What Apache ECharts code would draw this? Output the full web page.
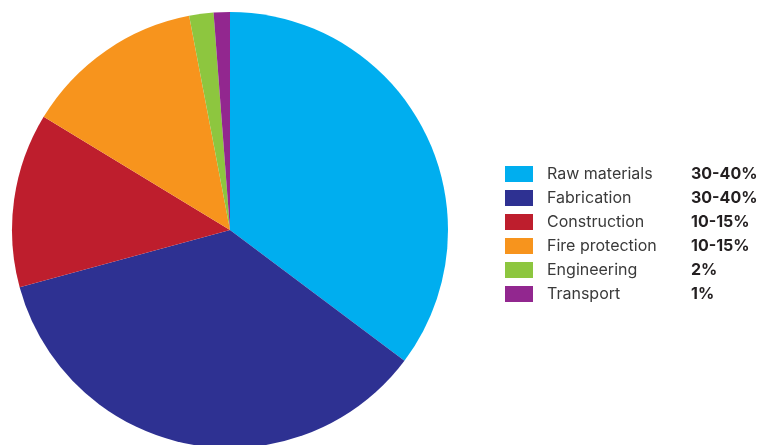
<!DOCTYPE html>
<html><head><meta charset="utf-8">
<script src="https://cdn.jsdelivr.net/npm/echarts@6/dist/echarts.min.js"></script>
<style>html,body{margin:0;padding:0;background:#fff}#c{width:763px;height:445px}</style>
</head><body><div id="c"></div>
<script>
const categories = ['Raw materials','Fabrication','Construction','Fire protection','Engineering','Transport'];
const shares = [35.2, 35.5, 12.9, 13.3, 1.8, 1.2];
const rangeLabels = ['30-40%','30-40%','10-15%','10-15%','2%','1%'];
const colors = ['#00aeef','#2e3192','#be1e2d','#f7941d','#8dc63f','#92278f'];

const chart = echarts.init(document.getElementById('c'));
chart.setOption({
  animation: false,
  color: colors,
  legend: {
    orient: 'vertical',
    left: 500, top: 161,
    itemWidth: 28, itemHeight: 16, itemGap: 8,
    icon: 'rect',
    selectedMode: false,
    data: categories,
    formatter: function(name){
      const i = categories.indexOf(name);
      return '{n|' + name + '}{v|' + rangeLabels[i] + '}';
    },
    textStyle: {
      rich: {
        n: {width: 144, fontSize: 16, fontFamily: 'Inter', color: '#3a3a3a', lineHeight: 16, padding:[0,0,0,9]},
        v: {fontSize: 16, fontFamily: 'Inter', fontWeight: 'bold', color: '#231f20', lineHeight: 16}
      }
    }
  },
  series: [{
    type: 'pie',
    center: [230, 230],
    radius: 218,
    startAngle: 90,
    clockwise: true,
    label: {show: false},
    labelLine: {show: false},
    emphasis: {disabled: true},
    data: categories.map((c,i)=>({name:c, value: shares[i]}))
  }]
});
</script></body></html>
